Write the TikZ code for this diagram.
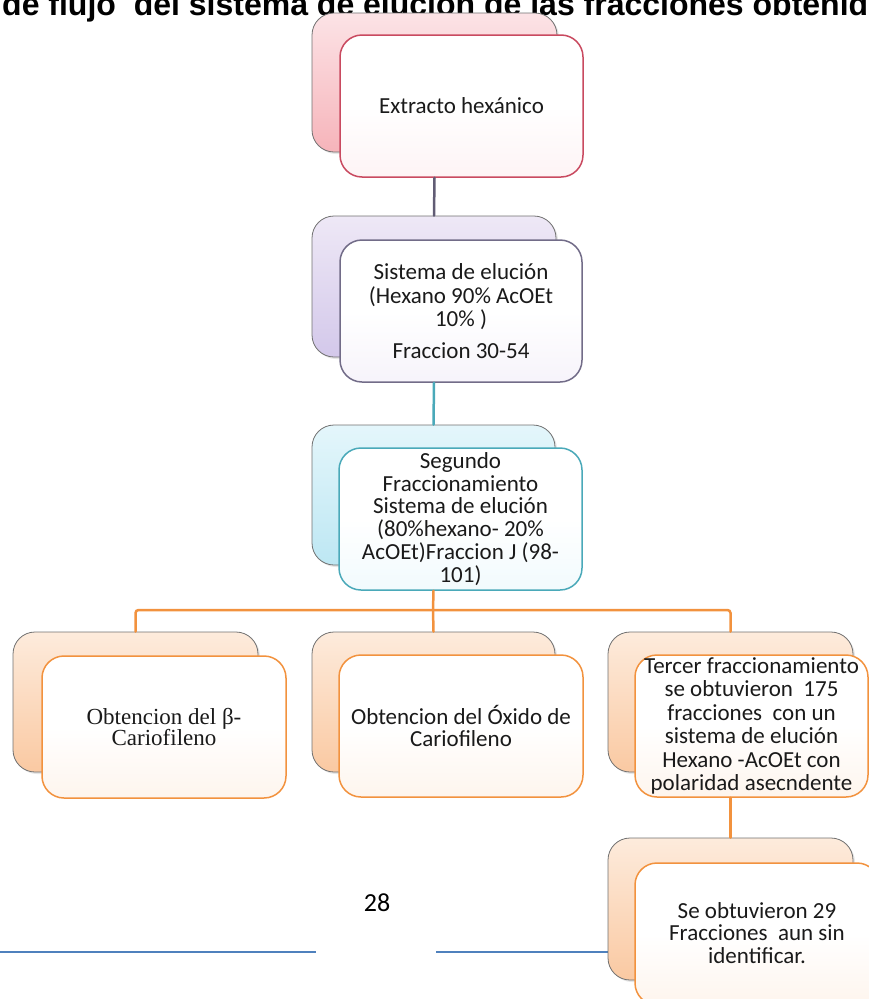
\documentclass[tikz,border=0pt]{standalone}
\usepackage{fontspec}
\setmainfont{Carlito}
\newfontfamily\serifx{Liberation Serif}
\newfontfamily\titlef{Liberation Sans}
\usetikzlibrary{shadows}
\definecolor{pinkT}{HTML}{FCE3E6}
\definecolor{pinkB}{HTML}{F6B4BA}
\definecolor{pinkE}{HTML}{C94A60}
\definecolor{purT}{HTML}{EEE8F6}
\definecolor{purB}{HTML}{D3C8EA}
\definecolor{purE}{HTML}{726C88}
\definecolor{tealT}{HTML}{E4F6FB}
\definecolor{tealB}{HTML}{BDE7F3}
\definecolor{tealE}{HTML}{4AA9B9}
\definecolor{orT}{HTML}{FDEBDC}
\definecolor{orB}{HTML}{FAC9A2}
\definecolor{orE}{HTML}{F2923E}
\definecolor{backE}{HTML}{707070}
\definecolor{bluel}{HTML}{4F81BD}
\definecolor{txt}{HTML}{1A1A1A}
\begin{document}
\begin{tikzpicture}[x=1pt,y=-1pt,
  backbox/.style 2 args={draw=backE, line width=0.8pt, rounded corners=22pt,
    top color=#1, bottom color=#2, minimum width=245pt, minimum height=140pt,
    inner sep=0pt, drop shadow={opacity=0.2, shadow xshift=2pt, shadow yshift=-2pt}},
  frontbox/.style 2 args={draw=#1, line width=1.5pt, rounded corners=22pt,
    top color=white, bottom color=#2, middle color=white,
    minimum width=244pt, minimum height=142pt, inner sep=0pt,
    align=center, text=txt, font=\fontsize{23}{23.5}\selectfont},
  link/.style={line width=2.5pt, line cap=round}]
\useasboundingbox (0,0) rectangle (869,999);
% title and page decoration
\node[anchor=base west, inner sep=0pt, font=\titlef\bfseries\fontsize{32}{34}\selectfont]
  (title) at (2,15) {de flujo \ del sistema de elucion de las fracciones obtenid};
\draw[bluel, line width=1.5pt] (0,952) -- (316,952);
\draw[bluel, line width=1.5pt] (436,952) -- (869,952);
\node[font=\fontsize{26}{28}\selectfont, text=black] (pagenum) at (377,903) {28};
% boxes
\node[backbox={pinkT}{pinkB}, minimum width=245pt, minimum height=139pt] (back1) at (434.5,82.5) {};
\node[frontbox={pinkE}{pinkT!40}, minimum width=243pt] (front1) at (461.5,106) {Extracto hexánico};
\node[backbox={purT}{purB}, minimum width=244pt, minimum height=141pt] (back2) at (434,286.5) {};
\node[frontbox={purE}{purT!50}, minimum width=242pt] (front2) at (461,311)
  {Sistema de elución\\(Hexano 90\% AcOEt\\10\% )\\[8pt]Fraccion 30-54};
\node[backbox={tealT}{tealB}, minimum width=243pt] (back3) at (433.5,495) {};
\node[frontbox={tealE}{tealT!50}, minimum width=243pt, font=\fontsize{23}{22.8}\selectfont] (front3) at (460.5,519)
  {Segundo\\Fraccionamiento\\Sistema de elución\\(80\%hexano- 20\%\\AcOEt)Fraccion J (98-\\101)};
\node[backbox={orT}{orB}] (back4) at (135.5,702) {};
\node[frontbox={orE}{orT!50}, font=\serifx\fontsize{23}{21.5}\selectfont] (front4) at (164,727)
  {Obtencion del β-\\Cariofileno};
\node[backbox={orT}{orB}, minimum width=243pt] (back5) at (433.5,702) {};
\node[frontbox={orE}{orT!50}, font=\fontsize{23}{22}\selectfont] (front5) at (461,726) {Obtencion del Óxido de\\Cariofileno};
\node[backbox={orT}{orB}] (back6) at (730.5,702) {};
\node[frontbox={orE}{orT!50}, minimum width=233pt] (front6) at (751.5,726)
  {Tercer fraccionamiento\\se obtuvieron \ 175\\fracciones \ con un\\sistema de elución\\Hexano -AcOEt con\\polaridad asecndente};
\node[backbox={orT}{orB}, minimum height=142pt] (back7) at (730.5,909) {};
\node[frontbox={orE}{orT!50}] (front7) at (757,934) {};
\node[text=txt, align=center, font=\fontsize{23}{22.5}\selectfont] (txt7) at (757,933)
  {Se obtuvieron 29\\Fracciones \ aun sin\\identificar.};
% connectors
\coordinate (hbar) at (433,610);
\draw[link, draw=purE!85!black] (back1 |- front1.south) -- (back2.north);
\draw[link, draw=tealE] (back2 |- front2.south) -- (back3.north);
\draw[link, draw=orE] (back3 |- front3.south) -- (hbar);
\draw[link, draw=orE, rounded corners=3pt] (back4.north) |- (hbar) -| (back6.north);
\draw[link, draw=orE] (hbar) -- (back5.north);
\draw[link, draw=orE] (back6 |- front6.south) -- (back7.north);
\end{tikzpicture}
\end{document}
